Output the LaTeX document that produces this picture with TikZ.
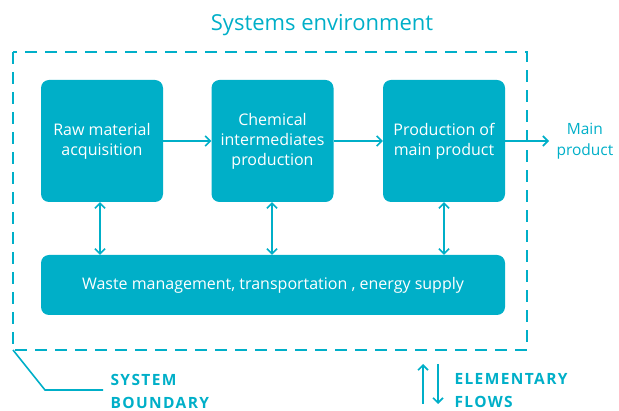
\documentclass[tikz,border=0pt]{standalone}
\usepackage{fontspec}
\setmainfont{Open Sans}
\usetikzlibrary{arrows.meta}
\definecolor{cy}{HTML}{00AFC8}
\tikzset{
  proc/.style={fill=cy, draw=none, rounded corners=8pt, text=white, align=center, font=\fontsize{16}{20}\selectfont, inner sep=0pt},
  conn/.style={draw=cy, line width=1.6pt, -{Straight Barb[length=5pt,width=10pt]}},
  dconn/.style={draw=cy, line width=1.6pt, {Straight Barb[length=5pt,width=10pt]}-{Straight Barb[length=5pt,width=10pt]}},
  lbl/.style={text=cy, font=\fontsize{15.5}{21}\selectfont, align=center},
  caps/.style={text=cy, font=\fontsize{15.5}{23}\selectfont\bfseries\addfontfeature{LetterSpace=9}, align=left, anchor=west}
}
\begin{document}
\begin{tikzpicture}[x=1pt,y=-1pt]
\useasboundingbox (0,0) rectangle (619,411);
\node[text=cy, font=\fontsize{22}{26}\selectfont] (title) at (322,25) {Systems environment};
\draw[cy, line width=2pt, dash pattern=on 12pt off 8pt] (13,52) rectangle (527,350);
\node[proc, minimum width=122pt, minimum height=122pt] (a) at (102,141) {Raw material\\acquisition};
\node[proc, minimum width=122pt, minimum height=122pt] (b) at (272.5,141) {Chemical\\intermediates\\production};
\node[proc, minimum width=122pt, minimum height=122pt] (c) at (444,141) {Production of\\main product};
\node[proc, minimum width=464pt, minimum height=60pt] (w) at (273,285) {Waste management, transportation , energy supply};
\coordinate (mp) at (549,141);
\node[lbl, anchor=west] (mpt) at (553,141) {Main\\product};
\draw[conn] (a) -- (b);
\draw[conn] (b) -- (c);
\draw[conn] (c) -- (mp);
\draw[dconn] (a.south -| 100,0) -- (w.north -| 100,0);
\draw[dconn] (b.south -| 272,0) -- (w.north -| 272,0);
\draw[dconn] (c.south -| 444,0) -- (w.north -| 444,0);
\coordinate (sb0) at (13,350);
\coordinate (sb1) at (45,390);
\coordinate (sb2) at (103,390);
\draw[cy, line width=1.6pt] (sb0) -- (sb1) -- (sb2);
\node[caps] (sbt) at (107,391) {SYSTEM\\BOUNDARY};
\coordinate (e1) at (423,404);
\coordinate (e2) at (423,364);
\coordinate (e3) at (438,364);
\coordinate (e4) at (438,404);
\draw[conn] (e1) -- (e2);
\draw[conn] (e3) -- (e4);
\node[caps] (eft) at (451,391) {ELEMENTARY\\FLOWS};
\end{tikzpicture}
\end{document}
